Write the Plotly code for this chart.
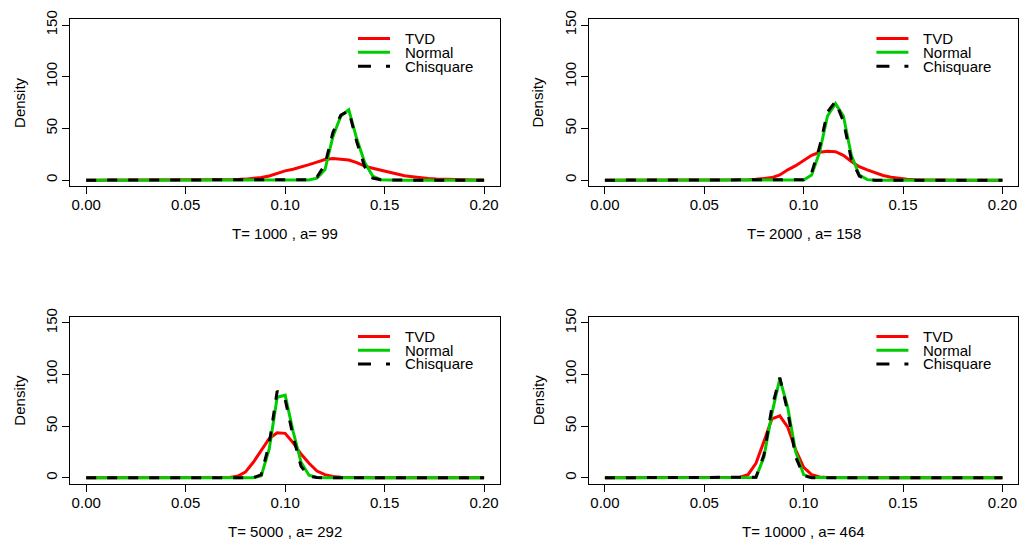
import plotly.graph_objects as go

# ---------------- data ----------------
X_GRID = [0.000, 0.004, 0.008, 0.012, 0.016, 0.020, 0.024, 0.028, 0.032, 0.036,
          0.040, 0.044, 0.048, 0.052, 0.056, 0.060, 0.064, 0.068, 0.072, 0.076,
          0.080, 0.084, 0.088, 0.092, 0.096, 0.100, 0.104, 0.108, 0.112, 0.116,
          0.120, 0.124, 0.128, 0.132, 0.136, 0.140, 0.144, 0.148, 0.152, 0.156,
          0.160, 0.164, 0.168, 0.172, 0.176, 0.180, 0.184, 0.188, 0.192, 0.196,
          0.200]

PANEL_TITLES = ["T= 1000 , a= 99", "T= 2000 , a= 158",
                "T= 5000 , a= 292", "T= 10000 , a= 464"]
SERIES_NAMES = ["TVD", "Normal", "Chisquare"]

TVD_T1000 = [0, 0, 0, 0, 0, 0, 0, 0, 0, 0,
             0, 0, 0, 0, 0, 0.1, 0.15, 0.3, 0.4, 0.7,
             1.0, 1.5, 2.5, 4, 6.5, 9, 10.5, 12.5, 15, 17.5,
             20, 21, 20.5, 19.5, 17, 13.5, 11.5, 9.5, 7.5, 5.5,
             4.2, 3.2, 2.2, 1.5, 1, 0.7, 0.5, 0.3, 0.2, 0.1,
             0.1]
NORMAL_T1000 = [0, 0, 0, 0, 0, 0, 0, 0, 0, 0,
                0, 0, 0, 0, 0, 0, 0, 0, 0, 0,
                0, 0, 0, 0, 0, 0, 0, 0, 0.2, 2,
                10, 42, 62, 68, 40, 17, 4, 0.5, 0, 0,
                0, 0, 0, 0, 0, 0, 0, 0, 0, 0,
                0]
CHISQ_T1000 = [0, 0, 0, 0, 0, 0, 0, 0, 0, 0,
               0, 0, 0, 0, 0, 0, 0, 0, 0, 0,
               0, 0, 0, 0, 0, 0, 0, 0, 0.5, 3,
               15, 46, 63, 67, 37, 13, 2, 0.3, 0, 0,
               0, 0, 0, 0, 0, 0, 0, 0, 0, 0,
               0]

TVD_T2000 = [0, 0, 0, 0, 0, 0, 0, 0, 0, 0,
             0, 0, 0, 0, 0, 0, 0.1, 0.2, 0.4, 0.8,
             1.3, 2.5, 5, 10, 14, 19, 24, 27, 28, 27.5,
             24, 18, 13, 10, 7, 4.5, 2.8, 1.6, 0.9, 0.5,
             0.3, 0.2, 0.1, 0, 0, 0, 0, 0, 0, 0,
             0]
NORMAL_T2000 = [0, 0, 0, 0, 0, 0, 0, 0, 0, 0,
                0, 0, 0, 0, 0, 0, 0, 0, 0, 0,
                0, 0, 0, 0, 0, 0.2, 5, 27, 62, 74,
                62, 24, 5, 0.5, 0, 0, 0, 0, 0, 0,
                0, 0, 0, 0, 0, 0, 0, 0, 0, 0,
                0]
CHISQ_T2000 = [0, 0, 0, 0, 0, 0, 0, 0, 0, 0,
               0, 0, 0, 0, 0, 0, 0, 0, 0, 0,
               0, 0, 0, 0, 0, 0.4, 7, 32, 66, 76,
               57, 20, 4, 0.3, 0, 0, 0, 0, 0, 0,
               0, 0, 0, 0, 0, 0, 0, 0, 0, 0,
               0]

TVD_T5000 = [0, 0, 0, 0, 0, 0, 0, 0, 0, 0,
             0, 0, 0, 0, 0, 0, 0, 0, 0.3, 1.5,
             5.5, 15, 27, 38, 43.5, 43, 34, 23, 14, 6.5,
             3, 1.3, 0.5, 0.2, 0.1, 0, 0, 0, 0, 0,
             0, 0, 0, 0, 0, 0, 0, 0, 0, 0,
             0]
NORMAL_T5000 = [0, 0, 0, 0, 0, 0, 0, 0, 0, 0,
                0, 0, 0, 0, 0, 0, 0, 0, 0, 0,
                0, 0, 2, 28, 78, 80, 45, 15, 2.5, 0.3,
                0, 0, 0, 0, 0, 0, 0, 0, 0, 0,
                0, 0, 0, 0, 0, 0, 0, 0, 0, 0,
                0]
CHISQ_T5000 = [0, 0, 0, 0, 0, 0, 0, 0, 0, 0,
               0, 0, 0, 0, 0, 0, 0, 0, 0, 0,
               0, 0, 3, 33, 84, 76, 40, 11, 1.5, 0.2,
               0, 0, 0, 0, 0, 0, 0, 0, 0, 0,
               0, 0, 0, 0, 0, 0, 0, 0, 0, 0,
               0]

TVD_T10000 = [0, 0, 0, 0, 0, 0, 0, 0, 0, 0,
              0, 0, 0, 0, 0, 0, 0.1, 0.5, 3, 14,
              35, 57, 60, 49, 27, 10, 3, 0.8, 0.2, 0.1,
              0, 0, 0, 0, 0, 0, 0, 0, 0, 0,
              0, 0, 0, 0, 0, 0, 0, 0, 0, 0,
              0]
NORMAL_T10000 = [0, 0, 0, 0, 0, 0, 0, 0, 0, 0,
                 0, 0, 0, 0, 0, 0, 0, 0, 0, 0.3,
                 20, 62, 96, 68, 25, 3, 0.2, 0, 0, 0,
                 0, 0, 0, 0, 0, 0, 0, 0, 0, 0,
                 0, 0, 0, 0, 0, 0, 0, 0, 0, 0,
                 0]
CHISQ_T10000 = [0, 0, 0, 0, 0, 0, 0, 0, 0, 0,
                0, 0, 0, 0, 0, 0, 0, 0, 0, 0.5,
                22, 68, 97, 64, 20, 2, 0.1, 0, 0, 0,
                0, 0, 0, 0, 0, 0, 0, 0, 0, 0,
                0, 0, 0, 0, 0, 0, 0, 0, 0, 0,
                0]

X_TICKS = [0.00, 0.05, 0.10, 0.15, 0.20]
X_TICK_LABELS = ["0.00", "0.05", "0.10", "0.15", "0.20"]
Y_TICKS = [0, 50, 100, 150]
Y_TICK_LABELS = ["0", "50", "100", "150"]

PANEL_DATA = [
    (TVD_T1000, NORMAL_T1000, CHISQ_T1000),
    (TVD_T2000, NORMAL_T2000, CHISQ_T2000),
    (TVD_T5000, NORMAL_T5000, CHISQ_T5000),
    (TVD_T10000, NORMAL_T10000, CHISQ_T10000),
]

# ---------------- styling / layout ----------------
W, H = 1024, 548
FONT = "Liberation Sans, Arial, Helvetica, sans-serif"
FS = 15
RED, GREEN, BLACK = "#FF0000", "#00CD00", "#000000"
DASH = "10px,11px"


def px_x(p):
    return p / W


def px_y(p):
    return 1 - p / H


# panel boxes in pixels: (left, right, top, bottom)
BOXES = [(70.3, 500.0, 11.0, 181.0), (589.0, 1018.3, 11.0, 181.0),
         (70.3, 500.0, 313.3, 483.0), (589.0, 1018.3, 313.3, 483.0)]

fig = go.Figure()
layout = dict(width=W, height=H, margin=dict(l=0, r=0, t=0, b=0),
              paper_bgcolor="white", plot_bgcolor="white",
              showlegend=False, font=dict(family=FONT, size=FS, color="black"))
annotations = []
shapes = []

for i, ((tvd, nor, chi), title, box) in enumerate(zip(PANEL_DATA, PANEL_TITLES, BOXES)):
    n = "" if i == 0 else str(i + 1)
    xa, ya = "x" + n, "y" + n
    styles = [(tvd, RED, "solid"), (nor, GREEN, "solid"), (chi, BLACK, DASH)]
    for (vals, col, dash), name in zip(styles, SERIES_NAMES):
        fig.add_trace(go.Scatter(x=X_GRID, y=vals, mode="lines", name=name,
                                 line=dict(color=col, width=3, dash=dash),
                                 xaxis=xa, yaxis=ya, hoverinfo="skip"))
    l, r, t, b = box
    common = dict(showline=True, mirror=True, linecolor="black", linewidth=1,
                  ticks="outside", ticklen=7, tickwidth=1, tickcolor="black",
                  showgrid=False, zeroline=False, fixedrange=True,
                  tickfont=dict(family=FONT, size=FS, color="black"))
    layout["xaxis" + n] = dict(domain=[px_x(l), px_x(r)], range=[-0.008, 0.208],
                               anchor=ya, tickvals=X_TICKS, ticktext=X_TICK_LABELS,
                               ticklabelstandoff=-2, **common)
    layout["yaxis" + n] = dict(domain=[px_y(b), px_y(t)], range=[-6, 156],
                               anchor=xa, tickvals=Y_TICKS, ticktext=Y_TICK_LABELS,
                               tickangle=-90, ticklabelstandoff=-1, **common)
    # axis titles
    annotations.append(dict(text=title, xref="paper", yref="paper",
                            x=px_x((l + r) / 2), y=px_y(b + 48),
                            xanchor="center", yanchor="middle", showarrow=False,
                            font=dict(family=FONT, size=FS, color="black")))
    annotations.append(dict(text="Density", xref="paper", yref="paper",
                            x=px_x(l - 51), y=px_y((t + b) / 2), textangle=-90,
                            xanchor="center", yanchor="middle", showarrow=False,
                            font=dict(family=FONT, size=FS, color="black")))
    # legend (no box), top right of each panel
    leg_rows = [0.8824, 0.80, 0.7176]
    for (vals, col, dash), name, yy in zip(styles, SERIES_NAMES, leg_rows):
        shapes.append(dict(type="line", xref=xa + " domain", yref=ya + " domain",
                           x0=0.6695, x1=0.744, y0=yy, y1=yy,
                           line=dict(color=col, width=3,
                                     dash="13px,15px" if dash != "solid" else "solid")))
        annotations.append(dict(text=name, xref=xa + " domain", yref=ya + " domain",
                                x=0.7743, y=yy, xanchor="left", yanchor="middle",
                                showarrow=False,
                                font=dict(family=FONT, size=FS, color="black")))

layout["annotations"] = annotations
layout["shapes"] = shapes
fig.update_layout(**layout)

POST = ("document.documentElement.style.margin='0';"
        "document.body.style.margin='0';document.body.style.padding='0';"
        "var gd=document.getElementById('{plot_id}');"
        "gd.style.position='absolute';gd.style.left='0px';gd.style.top='0px';")
fig.write_html("out.html", post_script=POST,
               config={"displayModeBar": False, "staticPlot": True})
